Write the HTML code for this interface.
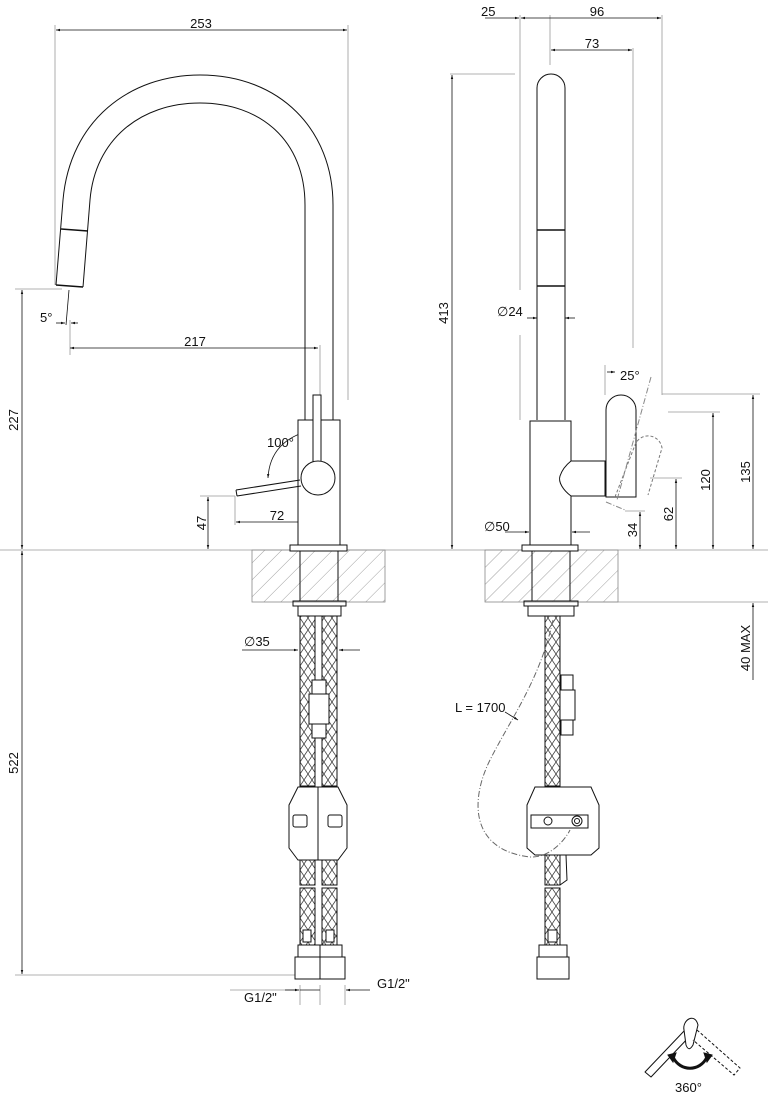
<!DOCTYPE html>
<html><head><meta charset="utf-8"><style>
html,body{margin:0;padding:0;background:#fff}
svg{display:block}
text{font-family:"Liberation Sans",sans-serif;font-size:13px;fill:#111}
</style></head><body>
<svg width="768" height="1099" viewBox="0 0 768 1099" xmlns="http://www.w3.org/2000/svg">
<defs>
<marker id="a" viewBox="0 0 10 10" refX="10" refY="5" markerWidth="8" markerHeight="5" orient="auto-start-reverse"><path d="M0 2L10 5L0 8z" fill="#111"/></marker>
<pattern id="h" width="12" height="12" patternUnits="userSpaceOnUse" patternTransform="rotate(45)"><line x1="0" y1="0" x2="0" y2="12" stroke="#888" stroke-width="0.8"/></pattern>
<pattern id="br" width="8" height="12" patternUnits="userSpaceOnUse"><path d="M0 0L8 12M8 0L0 12" stroke="#444" stroke-width="0.8"/></pattern>
</defs>
<g fill="none" stroke="#999" stroke-width="0.8">
<line x1="0" y1="550" x2="768" y2="550"/>
<line x1="580" y1="602" x2="768" y2="602"/>
<line x1="55" y1="25" x2="55" y2="285"/>
<line x1="348" y1="25" x2="348" y2="400"/>
<line x1="15" y1="289" x2="62" y2="289"/>
<line x1="15" y1="975" x2="300" y2="975"/>
<line x1="70" y1="320" x2="70" y2="355"/>
<line x1="320" y1="345" x2="320" y2="420"/>
<line x1="200" y1="496" x2="235" y2="496"/>
<line x1="235" y1="496" x2="235" y2="525"/>
<line x1="300" y1="985" x2="300" y2="1005"/>
<line x1="320" y1="985" x2="320" y2="1005"/>
<line x1="345" y1="985" x2="345" y2="1005"/>
<line x1="230" y1="990" x2="300" y2="990"/>
<line x1="520" y1="15" x2="520" y2="290"/>
<line x1="520" y1="335" x2="520" y2="420"/>
<line x1="550" y1="15" x2="550" y2="65"/>
<line x1="633" y1="48" x2="633" y2="348"/>
<line x1="662" y1="15" x2="662" y2="395"/>
<line x1="450" y1="74" x2="515" y2="74"/>
<line x1="605" y1="365" x2="605" y2="395"/>
<line x1="662" y1="394" x2="760" y2="394"/>
<line x1="668" y1="412" x2="720" y2="412"/>
<line x1="650" y1="478" x2="682" y2="478"/>
<line x1="625" y1="511" x2="645" y2="511"/>
</g>
<g stroke="#888" stroke-width="0.8">
<rect x="252" y="550" width="133" height="52" fill="url(#h)"/>
<rect x="485" y="550" width="133" height="52" fill="url(#h)"/>
</g>
<g stroke="#111" stroke-width="0.8" fill="none">
<line x1="56" y1="30" x2="347" y2="30" marker-start="url(#a)" marker-end="url(#a)"/>
<line x1="70" y1="348" x2="318" y2="348" marker-start="url(#a)" marker-end="url(#a)"/>
<line x1="56" y1="323" x2="65" y2="323" marker-end="url(#a)"/>
<line x1="78" y1="323" x2="71" y2="323" marker-end="url(#a)"/>
<line x1="69" y1="290" x2="66" y2="325"/>
<line x1="22" y1="290" x2="22" y2="549" marker-start="url(#a)" marker-end="url(#a)"/>
<line x1="22" y1="551" x2="22" y2="974" marker-start="url(#a)" marker-end="url(#a)"/>
<line x1="236" y1="522" x2="317" y2="522" marker-start="url(#a)" marker-end="url(#a)"/>
<line x1="208" y1="497" x2="208" y2="549" marker-start="url(#a)" marker-end="url(#a)"/>
<path d="M312 430 Q270 440 268 478" marker-start="url(#a)" marker-end="url(#a)"/>
<line x1="242" y1="650" x2="298" y2="650" marker-end="url(#a)"/>
<line x1="360" y1="650" x2="339" y2="650" marker-end="url(#a)"/>
<line x1="285" y1="990" x2="299" y2="990" marker-end="url(#a)"/>
<line x1="370" y1="990" x2="346" y2="990" marker-end="url(#a)"/>
<line x1="300" y1="990" x2="320" y2="990"/>
<line x1="485" y1="18" x2="519" y2="18" marker-end="url(#a)"/>
<line x1="521" y1="18" x2="661" y2="18" marker-start="url(#a)" marker-end="url(#a)"/>
<line x1="551" y1="50" x2="632" y2="50" marker-start="url(#a)" marker-end="url(#a)"/>
<line x1="452" y1="75" x2="452" y2="549" marker-start="url(#a)" marker-end="url(#a)"/>
<line x1="527" y1="318" x2="537" y2="318" marker-end="url(#a)"/>
<line x1="575" y1="318" x2="565" y2="318" marker-end="url(#a)"/>
<line x1="505" y1="532" x2="529" y2="532" marker-end="url(#a)"/>
<line x1="590" y1="532" x2="572" y2="532" marker-end="url(#a)"/>
<line x1="607" y1="372" x2="615" y2="372" marker-end="url(#a)"/>
<line x1="640" y1="512" x2="640" y2="549" marker-start="url(#a)" marker-end="url(#a)"/>
<line x1="676" y1="479" x2="676" y2="549" marker-start="url(#a)" marker-end="url(#a)"/>
<line x1="713" y1="413" x2="713" y2="549" marker-start="url(#a)" marker-end="url(#a)"/>
<line x1="753" y1="395" x2="753" y2="549" marker-start="url(#a)" marker-end="url(#a)"/>
<line x1="753" y1="680" x2="753" y2="603" marker-end="url(#a)"/>
<line x1="505" y1="712" x2="518" y2="720" marker-end="url(#a)"/>
</g>
<g>
<text x="201" y="28" text-anchor="middle">253</text>
<text x="195" y="346" text-anchor="middle">217</text>
<text x="40" y="322">5°</text>
<text x="267" y="447">100°</text>
<text x="277" y="520" text-anchor="middle">72</text>
<text transform="translate(206,523) rotate(-90)" text-anchor="middle">47</text>
<text transform="translate(18,420) rotate(-90)" text-anchor="middle">227</text>
<text transform="translate(18,763) rotate(-90)" text-anchor="middle">522</text>
<text x="244" y="646">∅35</text>
<text x="244" y="1002">G1/2"</text>
<text x="377" y="988">G1/2"</text>
<text x="481" y="16">25</text>
<text x="597" y="16" text-anchor="middle">96</text>
<text x="592" y="48" text-anchor="middle">73</text>
<text transform="translate(448,313) rotate(-90)" text-anchor="middle">413</text>
<text x="497" y="316">∅24</text>
<text x="484" y="531">∅50</text>
<text x="620" y="380">25°</text>
<text transform="translate(637,530) rotate(-90)" text-anchor="middle">34</text>
<text transform="translate(673,514) rotate(-90)" text-anchor="middle">62</text>
<text transform="translate(710,480) rotate(-90)" text-anchor="middle">120</text>
<text transform="translate(750,472) rotate(-90)" text-anchor="middle">135</text>
<text transform="translate(750,648) rotate(-90)" text-anchor="middle">40 MAX</text>
<text x="455" y="712">L = 1700</text>
<text x="675" y="1092">360°</text>
</g>
<g fill="none" stroke="#111" stroke-width="1">
<path d="M56 285 L63 200 C70 120 130 75 200 75 C280 75 333 130 333 205 L333 420"/>
<path d="M83 287 L90 200 C95 140 140 103 200 103 C260 103 305 140 305 205 L305 420"/>
<line x1="61" y1="229" x2="88" y2="231" stroke-width="1.5"/>
<line x1="56" y1="285" x2="83" y2="287" stroke-width="1.5"/>
<rect x="298" y="420" width="42" height="125" fill="#fff"/>
<rect x="290" y="545" width="57" height="6" fill="#fff"/>
<rect x="313" y="395" width="8" height="68" fill="#fff"/>
<circle cx="318" cy="478" r="17" fill="#fff"/>
<path d="M236 490 L300 480 M237 496 L301 486 M236 490 L237 496"/>
<rect x="300" y="551" width="38" height="50"/>
<rect x="293" y="601" width="53" height="5"/>
<rect x="298" y="606" width="43" height="10"/>
<rect x="300" y="616" width="15" height="170" fill="url(#br)"/>
<rect x="322" y="616" width="15" height="170" fill="url(#br)"/>
<rect x="312" y="680" width="14" height="14" fill="#fff"/>
<rect x="309" y="694" width="20" height="30" fill="#fff"/>
<rect x="312" y="724" width="14" height="14" fill="#fff"/>
<path d="M289 805 L298 787 L338 787 L347 805 L347 848 L338 860 L298 860 L289 848 Z" fill="#fff"/>
<line x1="318" y1="787" x2="318" y2="860"/>
<rect x="293" y="815" width="14" height="12" rx="2"/>
<rect x="328" y="815" width="14" height="12" rx="2"/>
<rect x="300" y="860" width="15" height="25" fill="url(#br)"/>
<rect x="322" y="860" width="15" height="25" fill="url(#br)"/>
<rect x="300" y="888" width="15" height="57" fill="url(#br)"/>
<rect x="322" y="888" width="15" height="57" fill="url(#br)"/>
<rect x="303" y="930" width="8" height="12" fill="#fff"/>
<rect x="326" y="930" width="8" height="12" fill="#fff"/>
<rect x="298" y="945" width="44" height="12" fill="#fff"/>
<rect x="295" y="957" width="50" height="22" fill="#fff"/>
<line x1="320" y1="945" x2="320" y2="979"/>
</g>
<g fill="none" stroke="#111" stroke-width="1">
<path d="M537 420 L537 88 A14 14 0 0 1 565 88 L565 420"/>
<line x1="537" y1="230" x2="565" y2="230" stroke-width="1.5"/>
<line x1="537" y1="286" x2="565" y2="286" stroke-width="1.5"/>
<rect x="530" y="421" width="41" height="124" fill="#fff"/>
<rect x="522" y="545" width="56" height="6" fill="#fff"/>
<path d="M571 461 L635 461 L635 496 L571 496 C563 490 558 482 560 476 C562 470 566 465 571 461 Z" fill="#fff"/>
<line x1="605" y1="461" x2="605" y2="496"/>
<path d="M606 497 L606 410 A15 15 0 0 1 636 410 L636 497 Z" fill="#fff"/>
<path d="M615 497 L635 445 A14 14 0 0 1 662 448 L648 495" stroke="#777" stroke-dasharray="3 2"/>
<path d="M651 377 L617 500 M606 502 L625 510" stroke="#888" stroke-dasharray="6 2 1 2"/>
<rect x="532" y="551" width="38" height="50"/>
<rect x="524" y="601" width="54" height="5"/>
<rect x="528" y="606" width="46" height="10"/>
<rect x="545" y="616" width="15" height="170" fill="url(#br)"/>
<rect x="561" y="675" width="12" height="15"/>
<rect x="560" y="690" width="15" height="30"/>
<rect x="561" y="720" width="12" height="15"/>
<path d="M527 805 L535 787 L591 787 L599 805 L599 848 L591 855 L535 855 L527 848 Z" fill="#fff"/>
<rect x="531" y="815" width="57" height="13"/>
<circle cx="548" cy="821" r="4"/>
<circle cx="577" cy="821" r="5"/><circle cx="577" cy="821" r="2.5"/>
<rect x="545" y="855" width="15" height="30" fill="url(#br)"/>
<path d="M560 855 L566 855 L567 880 L560 885"/>
<rect x="545" y="888" width="15" height="57" fill="url(#br)"/>
<rect x="548" y="930" width="9" height="12" fill="#fff"/>
<rect x="539" y="945" width="28" height="12" fill="#fff"/>
<rect x="537" y="957" width="32" height="22" fill="#fff"/>
<path d="M553 620 C540 680 510 720 490 760 C470 800 470 850 530 857 C550 858 565 840 570 830" stroke="#666" stroke-dasharray="6 2 1 2"/>
</g>
<g fill="none" stroke="#111" stroke-width="1">
<path d="M645 1072 L685 1030 L690 1036 L651 1077 Z" stroke-linejoin="round"/>
<path d="M684 1030 C682 1020 695 1012 698 1025 L693 1045 C690 1050 688 1050 686 1045 Z" fill="#fff"/>
<path d="M697 1030 L740 1068 L734 1075 L693 1040" stroke-dasharray="3 2"/>
<path d="M673 1057 C680 1072 700 1072 707 1057" stroke-width="3"/>
<path d="M668 1055 L676 1053 L673 1062 Z M712 1055 L704 1053 L707 1062 Z" fill="#111"/>
</g>
</svg>
</body></html>
